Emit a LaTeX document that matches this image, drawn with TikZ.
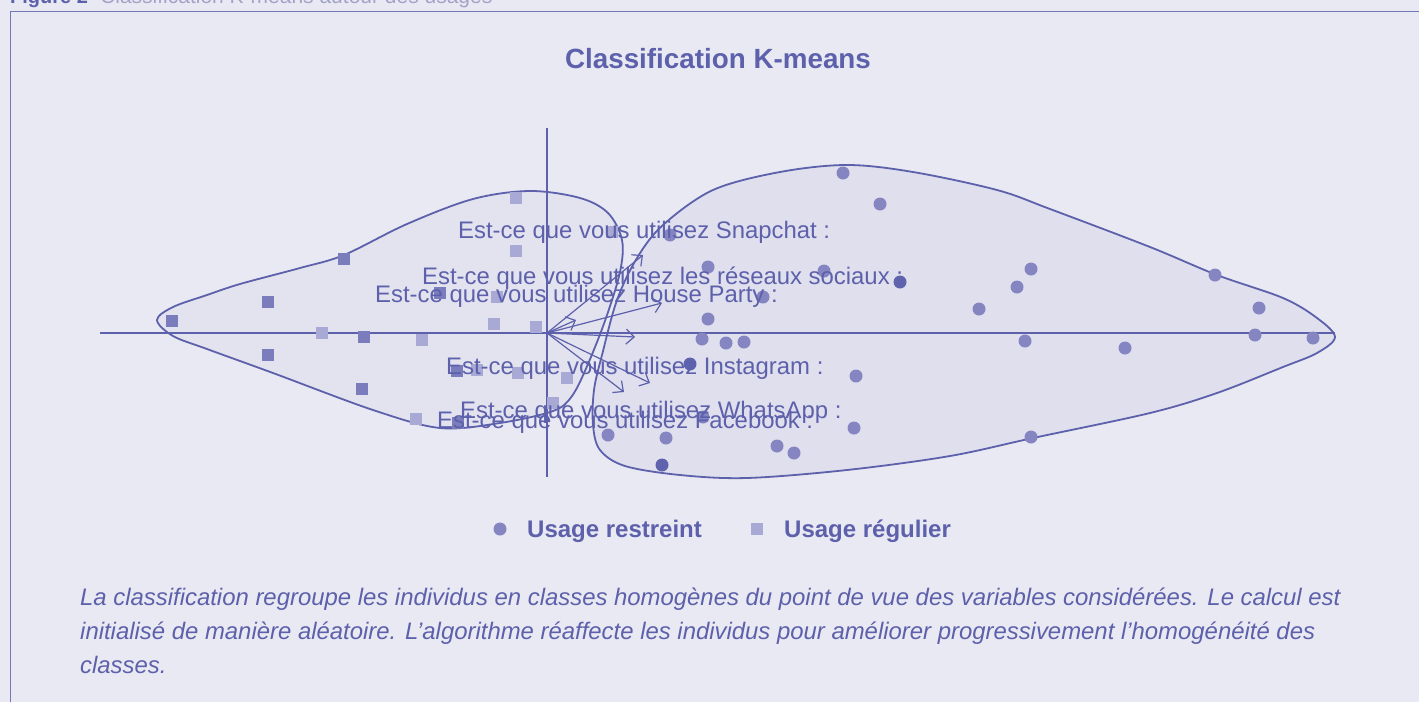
\documentclass[tikz,border=0pt]{standalone}
\usepackage{fontspec}
\setmainfont{Liberation Sans}
\usetikzlibrary{arrows.meta}
\definecolor{bg}{HTML}{E9E9F3}
\definecolor{hullR}{HTML}{DFDFEE}
\definecolor{hullL}{HTML}{E3E3F0}
\definecolor{ink}{HTML}{5D60AA}
\definecolor{frame}{HTML}{7478B8}
\definecolor{dotc}{HTML}{8585C2}
\definecolor{dotd}{HTML}{5F63AE}
\definecolor{sqdc}{HTML}{7B7CBC}
\definecolor{sqlc}{HTML}{A9A9D5}
\definecolor{graytxt}{HTML}{A3A3C9}
\tikzset{
  lbl/.style={font=\fontsize{23.9}{28}\selectfont, text=ink, inner sep=0pt, anchor=base west},
  rdot/.style={circle, fill=dotc, inner sep=0pt, minimum size=13pt},
  rdotd/.style={circle, fill=dotd, inner sep=0pt, minimum size=13pt},
  sqdark/.style={rectangle, fill=sqdc, inner sep=0pt, minimum size=12pt},
  sqlight/.style={rectangle, fill=sqlc, inner sep=0pt, minimum size=12pt},
  hullline/.style={draw=ink, line width=1.8pt},
  axisline/.style={draw=ink, line width=1.5pt},
  vec/.style={draw=ink, line width=1.2pt, -{Straight Barb[length=8pt,width=15pt,line width=1.2pt]}},
  captxt/.style={font=\fontsize{23.9}{28}\selectfont\itshape, text=ink, inner sep=0pt, anchor=base west},
  legtxt/.style={font=\fontsize{24}{28}\selectfont\bfseries, text=ink, inner sep=0pt, anchor=base west}
}
\begin{document}
\begin{tikzpicture}[x=1pt,y=-1pt]
\useasboundingbox (0,0) rectangle (1419,702);
\fill[bg] (0,0) rectangle (1419,702);
% header (cut off at the top edge, as in the reference)
\node[font=\fontsize{20}{24}\selectfont\bfseries, text=ink, inner sep=0pt, anchor=base west] (fig) at (10,3) {Figure 2};
\node[font=\fontsize{21}{24}\selectfont, text=graytxt, inner sep=0pt, anchor=base west] (figtitle) at (100,3) {Classification K-means autour des usages};
% frame
\draw[frame, line width=1pt] (10,702) -- (10,11) -- (1419,11);
% title
\node[font=\fontsize{27.8}{32}\selectfont\bfseries, text=ink, inner sep=0pt, anchor=base] (title) at (718,68) {Classification K-means};
% hulls
\draw[hullline, fill=hullL] plot[smooth cycle, tension=0.55] coordinates {
 (157,320) (173,307) (207,295) (240,284) (300,268) (344,255) (407,224) (473,199) (530,191) (580,198) (608,213) (622,240) (620,272) (606,318) (588,364) (572,396) (553,411) (500,423) (440,428) (373,410) (273,373) (207,349) (173,336)};
\draw[hullline, fill=hullR, fill opacity=0.9] plot[smooth cycle, tension=0.55] coordinates {
 (663,225) (713,190) (780,172) (847,165) (913,172) (997,190) (1050,209) (1150,247) (1217,275) (1283,298) (1317,318) (1335,337) (1317,353) (1283,367) (1217,393) (1150,413) (1033,438) (950,456) (847,470) (747,478) (680,475) (625,466) (600,450) (593,425) (594,390) (602,355) (617,300) (637,258)};
% axes
\coordinate (xl) at (100,333);
\coordinate (xr) at (1335,333);
\coordinate (yt) at (547,128);
\coordinate (yb) at (547,477);
\coordinate (O) at (547,333);
\draw[axisline] (xl) -- (xr);
\draw[axisline] (yt) -- (yb);
% circles: usage restreint
\foreach \x/\y [count=\i] in {843/173,880/204,670/235,708/267,824/271,763/297,708/319,702/339,726/343,744/342,856/376,703/417,608/435,666/438,777/446,794/453,854/428,979/309,1031/269,1017/287,1215/275,1259/308,1255/335,1313/338,1025/341,1125/348,1031/437}
  \node[rdot] (c\i) at (\x,\y) {};
\foreach \x/\y [count=\i] in {900/282,690/364,662/465}
  \node[rdotd] (cd\i) at (\x,\y) {};
% squares: usage regulier
\foreach \x/\y [count=\i] in {172/321,268/302,344/259,268/355,364/337,362/389,440/293,457/371,458/423}
  \node[sqdark] (sd\i) at (\x,\y) {};
\foreach \x/\y [count=\i] in {322/333,422/340,416/419,516/198,516/251,497/297,494/324,536/327,477/370,518/373,567/378,553/403,612/232}
  \node[sqlight] (sl\i) at (\x,\y) {};
% vectors
\coordinate (v1) at (643,255);
\coordinate (v2) at (576,320);
\coordinate (v3) at (662,303);
\coordinate (v4) at (635,337);
\coordinate (v5) at (650,383);
\coordinate (v6) at (624,392);
\foreach \v in {v1,v2,v3,v4,v5,v6} \draw[vec] (O) -- (\v);
% labels
\node[lbl] (snap) at (458,238) {Est-ce que vous utilisez Snapchat :};
\node[lbl] (rs) at (422,284) {Est-ce que vous utilisez les réseaux sociaux :};
\node[lbl] (hp) at (375,302) {Est-ce que vous utilisez House Party :};
\node[lbl] (ig) at (446,374) {Est-ce que vous utilisez Instagram :};
\node[lbl] (wa) at (460,418) {Est-ce que vous utilisez WhatsApp :};
\node[lbl] (fb) at (437,428) {Est-ce que vous utilisez Facebook :};
% legend
\node[rdot] (legc) at (500,529) {};
\node[legtxt] (legct) at (527,537) {Usage restreint};
\node[sqlight] (legs) at (757,529) {};
\node[legtxt] (legst) at (784,537) {Usage régulier};
% caption
\node[captxt] (cap1) at (80,605) {La classification regroupe les individus en classes homogènes du point de vue des variables considérées. Le calcul est};
\node[captxt] (cap2) at (80,639) {initialisé de manière aléatoire. L’algorithme réaffecte les individus pour améliorer progressivement l’homogénéité des};
\node[captxt] (cap3) at (80,673) {classes.};
\end{tikzpicture}
\end{document}
